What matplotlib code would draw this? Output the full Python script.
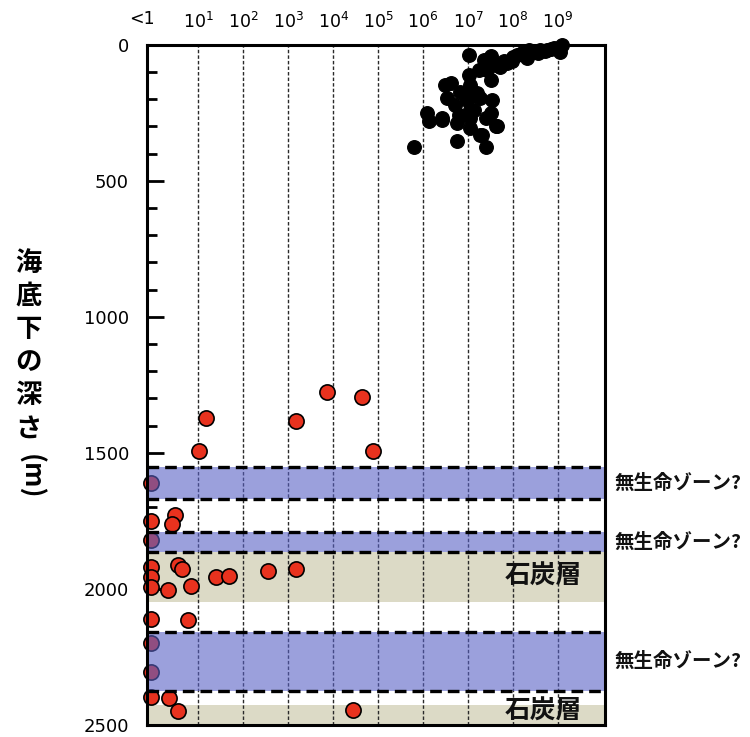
import matplotlib
matplotlib.use("Agg")
import matplotlib.pyplot as plt
import matplotlib.transforms as mtransforms

plt.rcParams['font.family'] = ['Noto Sans CJK JP', 'DejaVu Sans']

# ---- data (x = log10 of count, y = depth below seafloor, m) ----
black_x = [5.79, 6.09, 6.12, 6.42, 6.49, 6.61, 6.53, 6.83, 6.72, 6.79, 6.76, 6.76,
           7.02, 7.02, 7.05, 7.05, 7.05, 7.05, 7.20, 7.27, 7.39, 7.27, 7.50, 7.53,
           7.50, 7.61, 7.35, 7.50, 7.42, 7.24, 7.61, 7.87, 7.98, 8.09, 8.20, 8.31,
           8.46, 8.61, 8.76, 8.91, 9.09, 9.05, 6.42, 7.31, 7.65, 7.13, 7.16, 7.39,
           6.98, 7.05, 7.70, 7.80, 8.00, 8.35, 8.55, 8.70, 8.85]
black_y = [374, 251, 282, 276, 147, 141, 196, 172, 221, 257, 288, 355,
           37, 110, 147, 190, 239, 306, 178, 331, 374, 196, 129, 202,
           251, 300, 55, 43, 92, 92, 74, 67, 59, 37, 31, 49,
           25, 18, 18, 12, 0, 25, 270, 331, 300, 239, 184, 270,
           202, 270, 80, 60, 45, 20, 30, 22, 15]

red_x = [1.17, 1.02, 3.18, 3.87, 4.65, 4.88,
         -0.05, 0.48, -0.05, 0.41, -0.05,
         -0.05, 0.56, 0.63, -0.05, -0.05, 0.33, 0.84, 1.39, 1.68, 2.54, 3.18,
         -0.05, 0.78, -0.05, -0.05, -0.05, 0.35, 0.55, 4.44]
red_y = [1372, 1493, 1381, 1278, 1293, 1492,
         1611, 1728, 1750, 1762, 1820,
         1918, 1912, 1928, 1955, 1992, 2003, 1988, 1955, 1951, 1934, 1928,
         2110, 2114, 2200, 2304, 2396, 2401, 2450, 2445]

no_life_zones = [(1553, 1670), (1791, 1865), (2159, 2374)]
coal_layers = [(1865, 2047), (2426, 2500)]
coal_label_y = [1952, 2449]
zone_label = "無生命ゾーン?"
coal_label = "石炭層"

decades = [1, 2, 3, 4, 5, 6, 7, 8, 9]
decade_labels = [r"$10^{%d}$" % d for d in decades]
y_ticks = [0, 500, 1000, 1500, 2000, 2500]

# ---- figure ----
fig = plt.figure(figsize=(7.5, 7.37), dpi=100)
ax = fig.add_axes([0.196, 0.0163, 0.611, 0.923])
ax.set_xlim(-0.14, 10.05)
ax.set_ylim(2500, 0)

for lo, hi in coal_layers:
    ax.axhspan(lo, hi, color='#DCDAC6', zorder=0, lw=0)

for d in decades:
    ax.axvline(d, color='#2a2a2a', lw=1.0, ls=(0, (2.5, 1.5)), zorder=1)

ax.scatter(red_x, red_y, s=120, color='#E8321E', edgecolor='black', linewidth=1.2,
           zorder=2, clip_on=False)

blend_ay = mtransforms.blended_transform_factory(ax.transAxes, ax.transData)
for lo, hi in no_life_zones:
    ax.axhspan(lo, hi, color='#5861C5', alpha=0.6, zorder=3, lw=0)
    for yy in (lo, hi):
        ax.axhline(yy, color='black', lw=2.4, ls=(0, (3.5, 1.8)), zorder=4)
    ax.text(1.02, (lo + hi) / 2, zone_label, transform=blend_ay,
            ha='left', va='center', fontsize=14, fontweight='bold', color='#111111')

for yy in coal_label_y:
    ax.text(8.68, yy, coal_label, ha='center', va='center',
            fontsize=18.5, fontweight='bold', color='#111111', zorder=6)

ax.scatter(black_x, black_y, s=95, color='black', zorder=5, clip_on=False)

# axes styling
for sp in ax.spines.values():
    sp.set_linewidth(2.2)
    sp.set_zorder(7)

ax.set_xticks(decades)
ax.set_xticklabels(decade_labels)
ax.xaxis.set_ticks_position('top')
ax.tick_params(axis='x', length=0, pad=9, labelsize=12.5)
ax.text(-0.25, 1.024, "<1", transform=mtransforms.blended_transform_factory(ax.transData, ax.transAxes),
        ha='center', va='bottom', fontsize=12.5, family='DejaVu Sans')

ax.set_yticks(y_ticks)
ax.set_yticks(range(0, 2501, 100), minor=True)
ax.yaxis.set_ticks_position('left')
ax.tick_params(axis='y', which='major', direction='in', length=12, width=2, pad=13, labelsize=13)
ax.tick_params(axis='y', which='minor', direction='in', length=7, width=2)
for lbl in ax.get_yticklabels():
    lbl.set_family('DejaVu Sans')

# vertical Japanese y label
label_chars = "海底下の深さ"
y0 = 0.643
for i, ch in enumerate(label_chars):
    fig.text(0.038, y0 - i * 0.045, ch, ha='center', va='center', fontsize=19, fontweight='bold')
fig.text(0.040, y0 - len(label_chars) * 0.045 - 0.02, "(m)", ha='center', va='center',
         fontsize=19, fontweight='bold', rotation=-90)

fig.savefig("out.png", dpi=100)
